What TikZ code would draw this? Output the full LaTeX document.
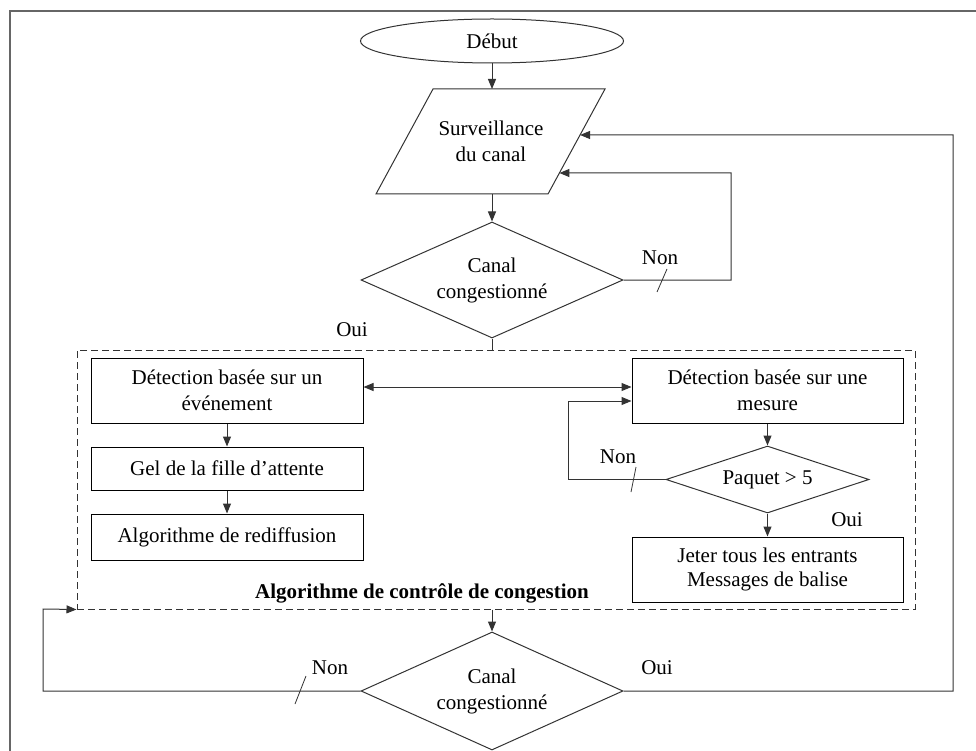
\documentclass[tikz,border=0pt]{standalone}
\usepackage{fontspec}
\setmainfont{Liberation Serif}
\usetikzlibrary{shapes.geometric,arrows.meta,calc}
\begin{document}
\begin{tikzpicture}[x=1pt,y=-1pt,
  every node/.style={font=\fontsize{21}{26}\selectfont, text=black},
  line/.style={draw=black!80, line width=1pt},
  arr/.style={line, -{Triangle[length=10pt,width=8pt]}},
  dblarr/.style={line, {Triangle[length=10pt,width=8pt]}-{Triangle[length=10pt,width=8pt]}},
  stepbox/.style={draw=black, line width=1pt, rectangle, inner sep=0pt, align=center},
  decision/.style={draw=black!80, line width=1pt, diamond, inner sep=0pt, align=center},
  lbl/.style={inner sep=0pt},
  tick/.style={draw=black!80, line width=0.8pt}]

\useasboundingbox (0,0) rectangle (976,751);
% outer frame
\draw[draw=black!60, line width=1.6pt] (10,11) rectangle (1000,800);

% start
\node[draw=black!80, line width=1pt, ellipse, minimum width=263pt, minimum height=44pt, inner sep=0pt] (debut) at (492,41) {Début};

% input/output parallelogram
\coordinate (ptl) at (433,89);
\coordinate (ptr) at (605,89);
\coordinate (pbr) at (548,194);
\coordinate (pbl) at (376,194);
\draw[line] (ptl) -- (ptr) -- (pbr) -- (pbl) -- cycle;
\node[align=center] (surv) at (491,141.5) {Surveillance\\du canal};
\coordinate (pin) at (492,89);
\coordinate (pout) at (492,194);
\coordinate (pR1) at ($(ptr)!0.438!(pbr)$);
\coordinate (pR2) at ($(ptr)!0.8!(pbr)$);

% first test
\node[decision, aspect=2.26, minimum width=262pt, minimum height=116pt] (d1) at (492,280) {Canal\\congestionné};

% congestion control group
\node[draw=black!80, line width=1pt, dash pattern=on 7pt off 4pt, minimum width=838pt, minimum height=259pt, inner sep=0pt] (grp) at (496,479.5) {};

\node[stepbox, minimum width=272pt, minimum height=65pt] (A) at (227,390.5) {Détection basée sur un\\événement};
\node[stepbox, minimum width=272pt, minimum height=43pt] (gel) at (227,468.5) {Gel de la fille d’attente};
\node[stepbox, minimum width=272pt, minimum height=46pt] (algo) at (227,537) {Algorithme de rediffusion};

\node[stepbox, minimum width=271pt, minimum height=65pt] (B) at (767.5,390.5) {Détection basée sur une\\mesure};
\node[decision, aspect=3, minimum width=203pt, minimum height=67pt] (pq) at (767.5,479.5) {Paquet > 5};
\node[stepbox, minimum width=271pt, minimum height=65pt, font=\fontsize{21}{24}\selectfont] (C) at (767.5,569.5) {Jeter tous les entrants\\Messages de balise};

\node[font=\fontsize{21}{26}\selectfont\bfseries] (ttl) at (422,593) {Algorithme de contrôle de congestion};

% second test
\node[decision, aspect=2.22, minimum width=262pt, minimum height=118pt] (d2) at (492,691) {Canal\\congestionné};

% bend points of the loops
\coordinate (loop1) at (731,173);
\coordinate (loop2) at (568,401);
\coordinate (loop3) at (43,609);
\coordinate (loop4) at (953,135);

% connectors
\draw[arr] (debut.south) -- (pin);
\draw[arr] (pout) -- (d1.north);
\draw[arr] (d1.east) -| (loop1) -- (pR2);
\draw[line] (d1.south) -- (d1.south |- grp.north);
\draw[dblarr] ([yshift=3.5pt]A.east) -- ([yshift=3.5pt]B.west);
\draw[arr] (A.south) -- (gel.north);
\draw[arr] (gel.south) -- (algo.north);
\draw[arr] (B.south) -- (pq.north);
\draw[arr] (pq.west) -| (loop2) -- (loop2 -| B.west);
\draw[arr] (pq.south) -- (C.north);
\draw[arr] (grp.south -| d2.north) -- (d2.north);
\draw[arr] (d2.west) -| (loop3) -- (grp.south west);
\draw[arr] (d2.east) -| (loop4) -- (pR1);

% branch labels
\node[lbl] (non1) at (660,258) {Non};
\node[lbl] (oui1) at (352,330) {Oui};
\node[lbl] (non2) at (618,457) {Non};
\node[lbl] (oui2) at (847,520) {Oui};
\node[lbl] (non3) at (330,668) {Non};
\node[lbl] (oui3) at (657,668) {Oui};

% tick marks on the "Non" branches
\draw[tick] (657,292) -- (667,269);
\draw[tick] (631,492) -- (636,467);
\draw[tick] (295,704) -- (306,676);
\end{tikzpicture}
\end{document}
